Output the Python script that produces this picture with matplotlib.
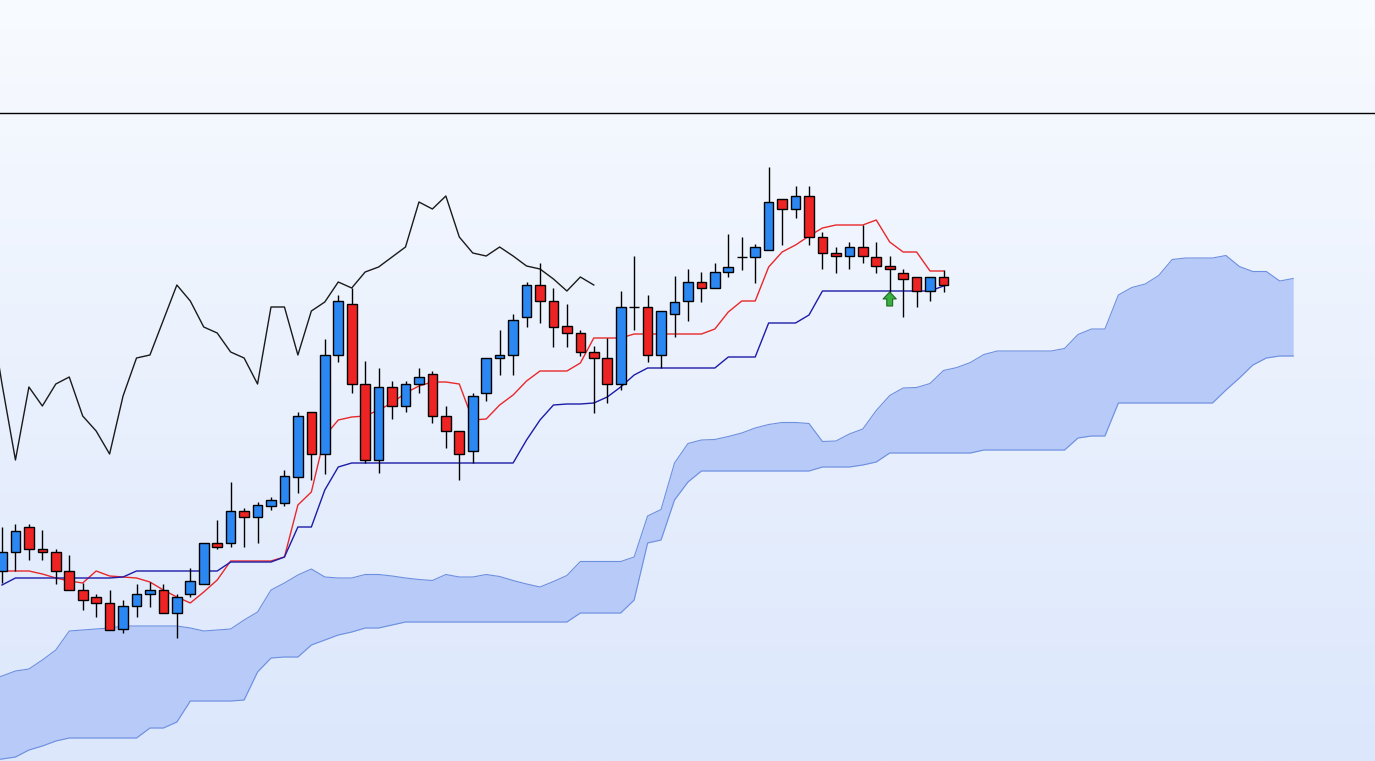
import numpy as np
import matplotlib
matplotlib.use("Agg")
import matplotlib.pyplot as plt
from matplotlib.patches import Rectangle

# ---- data (screen-level price units, smaller = higher) ----
opens = [571,552,527,549,552,571,590,597,603,629,
         606,594,590,613,594,584,543,543,511,517,
         506,503,477,412,454,355,304,384,460,387,
         406,384,374,416,431,451,393,358,355,317,
         285,301,326,333,352,358,384,307,307,355,
         314,301,282,288,272,257,257,250,199,209,
         196,237,253,256,247,257,266,273,277,291,
         277]
highs = [527,524,524,530,549,555,583,594,590,600,
         584,582,584,594,568,543,520,482,508,502,
         497,470,412,412,339,295,288,361,368,381,
         381,368,371,406,431,393,358,330,314,282,
         263,288,304,330,346,338,291,256,295,311,
         276,269,272,263,234,237,244,167,199,186,
         186,232,247,242,225,242,256,269,277,277,
         270]
lows = [583,571,560,560,584,590,610,617,630,633,
        617,607,613,638,597,584,549,547,547,543,
        510,506,493,480,474,362,393,463,473,419,
        412,393,423,448,480,463,401,375,375,327,
        323,347,347,356,413,403,390,330,362,368,
        337,321,302,288,277,270,283,250,245,218,
        245,269,273,269,263,273,292,317,307,301,
        292]
closes = [552,531,549,552,571,590,600,603,630,606,
          594,590,613,597,581,543,547,511,517,505,
          500,476,416,454,355,301,384,460,387,406,
          384,377,416,431,454,396,358,355,320,285,
          301,327,333,352,358,384,307,307,355,311,
          302,282,288,272,267,257,247,202,209,196,
          237,253,256,247,256,266,269,279,291,277,
          285]
tenkan = [571,571,571,574,578,581,583,571,576,577,
          578,582,590,597,603,592,580,561,561,561,
          561,557,505,492,436,420,417,416,410,403,
          393,386,382,382,384,420,419,405,395,381,
          371,371,371,363,338,338,338,334,334,334,
          334,334,334,329,312,301,301,267,252,245,
          236,228,225,225,225,220,242,252,252,271,
          271]
kijun = [585,578,578,578,578,578,578,578,578,577,
         571,571,571,571,571,571,571,562,562,562,
         562,557,527,527,490,467,463,463,463,463,
         463,463,463,463,463,463,463,463,463,440,
         420,405,404,404,403,397,387,375,368,368,
         368,368,368,368,357,357,357,323,323,323,
         315,291,291,291,291,291,291,291,291,291,
         286]
# cloud lines, index -1 .. 96
span_a = [680,676,671,669,660,650,631,630,629,628,626,
          626,626,626,626,628,631,630,629,620,612,590,583,575,569,577,578,
          578,574.5,574.5,576,578,579.5,580.5,574.5,577,577,
          574.5,576.5,580.5,584,587,581.5,575.5,561.5,561.5,561.5,
          561.5,557,516,509.5,463,443.5,440,439.5,436.5,433,
          428,424.5,422.5,422.5,423.5,441.5,441,434,429,410.5,
          395.5,388,387.5,383.5,370.5,367.5,362.5,354.5,351,351,
          351,351,351,348.5,334.5,329,329,295,287.5,284,
          275.5,259.5,258,258,258,255.5,266.5,271.5,271.5,281,
          278.5]
span_b = [760,759,757,750,746,741,738,738,738,738,738,
          738,728,728,722,701,701,701,701,700,672,658,657,657,645,640,635,
          632,628,628,625,622,622,622,622,622,622,622,622,622,622,622,622,622,
          613,613,613,613,600,543,540,500,482,
          471,471,471,471,471,471,471,471,471,
          467,467,467,465,462,
          453,453,453,453,453,453,453,
          450,450,450,450,450,450,450,
          438,436,436,
          403,403,403,403,403,403,403,403,
          390,378,365,358,356,356]
signal_index = 66
pane_divider = 113

# ---- figure ----
W, H = 1375, 761
fig = plt.figure(figsize=(W / 100, H / 100), dpi=100)
ax = fig.add_axes([0, 0, 1, 1])
step = 13.45
ax.set_xlim(-2 / step, (W - 2) / step)
ax.set_ylim(H, 0)
ax.axis("off")

# background gradient
top = np.array([248, 251, 255]) / 255
bot = np.array([220, 231, 252]) / 255
t = np.linspace(0, 1, 256)[:, None, None]
grad = top * (1 - t) + bot * t
grad = np.repeat(grad, 2, axis=1)
ax.imshow(grad, extent=[0, 1, 0, 1], transform=ax.transAxes, aspect="auto",
          zorder=0, origin="upper")

ax.axhline(pane_divider, color="black", lw=1.0, zorder=2)

# cloud
xc = np.arange(-1, len(span_a) - 1)
ax.fill_between(xc, span_a, span_b, color="#b8cbf8", lw=0, zorder=1)
ax.plot(xc, span_a, color="#6d8fe0", lw=0.8, zorder=1.5)
ax.plot(xc, span_b, color="#6d8fe0", lw=0.8, zorder=1.5)

# lines
xi = np.arange(len(closes))
ax.plot(xi, tenkan, color="#e8282a", lw=1.0, zorder=2.5)
ax.plot(xi, kijun, color="#1c1ca8", lw=1.0, zorder=2.5)
chikou = closes[25:]
ax.plot(np.arange(-1, len(chikou) - 1), chikou, color="#1a1a1a", lw=1.0, zorder=2.5)

# candles
bw = 0.72
for i, (o, h, l, c) in enumerate(zip(opens, highs, lows, closes)):
    ax.vlines(i, h, l, color="black", lw=1.0, zorder=3)
    if o == c:
        ax.hlines(o, i - bw / 2, i + bw / 2, color="black", lw=1.0, zorder=4)
        continue
    col = "#2b87f2" if c < o else "#ee2323"
    ax.add_patch(Rectangle((i - bw / 2, min(o, c)), bw, abs(o - c),
                           facecolor=col, edgecolor="black", lw=1.0, zorder=4))

# buy signal arrow
ax.annotate("", xy=(signal_index, lows[signal_index]),
            xytext=(signal_index, lows[signal_index] + 14),
            arrowprops=dict(arrowstyle="simple,head_width=0.95,head_length=0.5,tail_width=0.42",
                            fc="#39b03f", ec="#1f6a22", lw=0.8, shrinkA=0, shrinkB=0),
            zorder=5)

fig.savefig("out.png", dpi=100)
